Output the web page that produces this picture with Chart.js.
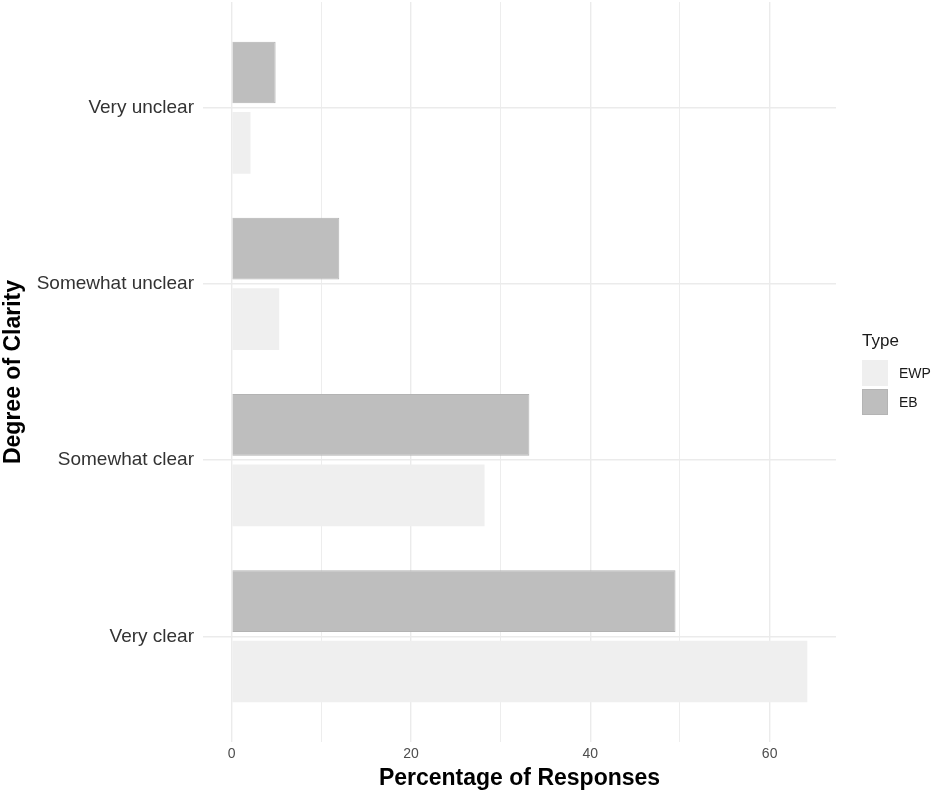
<!DOCTYPE html>
<html lang="en">
<head>
  <meta charset="UTF-8">
  <title>Degree of Clarity</title>
  <style>
    body {
      margin: 0;
      background: #fff;
      font-family: 'Liberation Sans', Arial, sans-serif;
    }
    .wrap {
      position: relative;
      width: 935px;
      height: 794px;
    }
    .legend {
      position: absolute;
      left: 862px;
      top: 330px;
      color: #1a1a1a;
    }
    .legend-title {
      font-size: 17px;
      line-height: 22px;
      margin-bottom: 6px;
    }
    .legend-row {
      display: flex;
      align-items: center;
      height: 29px;
      font-size: 14px;
    }
    .key {
      width: 26px;
      height: 26px;
      margin-right: 11px;
      box-sizing: border-box;
    }
  </style>
</head>
<body>
  <div class="wrap">
    <canvas id="chart"></canvas>
    <div class="legend">
      <div class="legend-title">Type</div>
      <div class="legend-row"><div class="key" style="background:#efefef"></div>EWP</div>
      <div class="legend-row"><div class="key" style="background:#bebebe;border:1px solid #b4b4b4"></div>EB</div>
    </div>
  </div>

  <script src="https://cdn.jsdelivr.net/npm/chart.js@4.4.1/dist/chart.umd.min.js"></script>
  <script>
    const categories = ['Very unclear', 'Somewhat unclear', 'Somewhat clear', 'Very clear'];
    const ebValues = [4.9, 12.0, 33.2, 49.5];
    const ewpValues = [2.1, 5.3, 28.2, 64.2];
    const xMin = -3.2;
    const xMax = 67.4;

    const font = "'Liberation Sans', Arial, sans-serif";

    new Chart(document.getElementById('chart').getContext('2d'), {
      type: 'bar',
      data: {
        labels: categories,
        datasets: [
          {
            label: 'EB',
            data: ebValues,
            backgroundColor: '#bebebe',
            borderColor: '#b3b3b3',
            borderWidth: 1,
            categoryPercentage: 0.8,
            barPercentage: 0.875
          },
          {
            label: 'EWP',
            data: ewpValues,
            backgroundColor: '#efefef',
            borderWidth: 0,
            categoryPercentage: 0.8,
            barPercentage: 0.875
          }
        ]
      },
      options: {
        indexAxis: 'y',
        responsive: true,
        maintainAspectRatio: false,
        animation: false,
        layout: { padding: { left: 0, right: 99, top: 2, bottom: 0 } },
        plugins: {
          legend: { display: false },
          tooltip: { enabled: false }
        },
        scales: {
          x: {
            min: xMin,
            max: xMax,
            border: { display: false },
            grid: {
              color: '#ebebeb',
              drawTicks: false,
              lineWidth: ctx => (ctx.tick && ctx.tick.value % 20 === 0) ? 1.4 : 0.9
            },
            ticks: {
              stepSize: 10,
              includeBounds: false,
              padding: 4,
              color: '#4d4d4d',
              font: { family: font, size: 14 },
              callback: v => (v % 20 === 0 ? v : '')
            },
            title: {
              display: true,
              text: 'Percentage of Responses',
              color: '#000',
              font: { family: font, size: 23, weight: 'bold' },
              padding: { top: 0, bottom: 2 }
            },
            afterFit: scale => { scale.height = 52; }
          },
          y: {
            border: { display: false },
            grid: {
              color: '#ebebeb',
              lineWidth: 1.4,
              offset: false,
              drawTicks: false
            },
            ticks: {
              padding: 9,
              color: '#333',
              font: { family: font, size: 19 }
            },
            title: {
              display: true,
              text: 'Degree of Clarity',
              color: '#000',
              font: { family: font, size: 23, weight: 'bold' },
              padding: { top: 0, bottom: 0 }
            },
            // widen the discrete range a little (0.6 of a category each side)
            afterBuildTicks: scale => {
              scale._startValue -= 0.1;
              scale._valueRange += 0.2;
            },
            afterFit: scale => {
              scale.width = 203;
              scale.paddingTop = 0;
              scale.paddingBottom = 0;
            }
          }
        }
      }
    });
  </script>
</body>
</html>
